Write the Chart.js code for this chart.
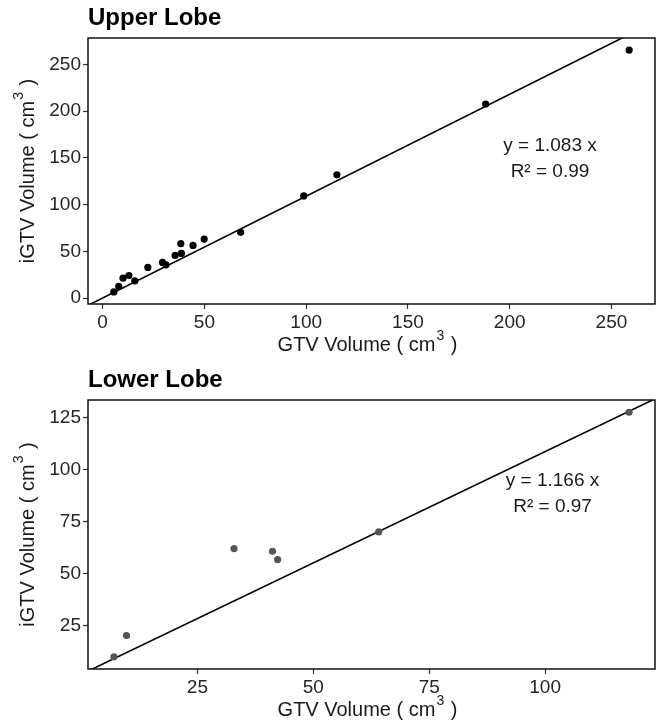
<!DOCTYPE html>
<html>
<head>
<meta charset="utf-8">
<script src="https://cdn.jsdelivr.net/npm/chart.js@4.4.1/dist/chart.umd.min.js"></script>
<style>
  html, body { margin: 0; padding: 0; background: #fff; }
  .wrap { position: relative; width: 662px; }
  #upperWrap { height: 362px; }
  #lowerWrap { height: 363px; }
  canvas { display: block; }
</style>
</head>
<body>
<div class="wrap" id="upperWrap"><canvas id="upperChart"></canvas></div>
<div class="wrap" id="lowerWrap"><canvas id="lowerChart"></canvas></div>
<script>
// upper lobe
const upperGTV  = [5.5, 7.9, 10.0, 12.9, 15.8, 22.2, 29.4, 31.1, 35.6, 38.7, 38.4, 44.4, 49.9, 67.8, 98.8, 115.1, 188.2, 258.7];
const upperIGTV = [6.5, 12.6, 21.2, 24.1, 18.3, 32.7, 38.1, 35.5, 45.6, 47.7, 58.1, 56.3, 63.1, 70.3, 109.2, 131.8, 207.6, 265.3];
const upperXTicks = [0, 50, 100, 150, 200, 250];
const upperYTicks = [0, 50, 100, 150, 200, 250];
const upperSlope = 1.09;
const upperEq = ['y = 1.083 x', 'R² = 0.99'];

// lower lobe
const lowerGTV  = [7.0, 9.7, 32.9, 41.2, 42.3, 64.1, 118.1];
const lowerIGTV = [9.9, 20.1, 61.9, 60.6, 56.6, 69.9, 127.4];
const lowerXTicks = [25, 50, 75, 100];
const lowerYTicks = [25, 50, 75, 100, 125];
const lowerSlope = 1.07;
const lowerIntercept = 1.5;
const lowerEq = ['y = 1.166 x', 'R² = 0.97'];

const FONT = "'Liberation Sans', Arial, Helvetica, sans-serif";

function drawSupLabel(ctx, cx, cy, main, sup, tail) {
  ctx.font = '20px ' + FONT;
  const w1 = ctx.measureText(main).width;
  const w3 = ctx.measureText(tail).width;
  ctx.font = '14px ' + FONT;
  const w2 = ctx.measureText(sup).width + 2;
  let x = cx - (w1 + w2 + w3) / 2;
  ctx.textAlign = 'left';
  ctx.textBaseline = 'middle';
  ctx.font = '20px ' + FONT;
  ctx.fillText(main, x, cy);
  ctx.font = '14px ' + FONT;
  ctx.fillText(sup, x + w1 + 1, cy - 9);
  ctx.font = '20px ' + FONT;
  ctx.fillText(tail, x + w1 + w2, cy);
}

const framePlugin = {
  id: 'frame',
  afterDraw(chart, args, opts) {
    const { ctx, chartArea: a, scales } = chart;
    ctx.save();
    ctx.strokeStyle = '#111';
    ctx.lineWidth = 1.5;
    ctx.strokeRect(a.left, a.top, a.right - a.left, a.bottom - a.top);

    ctx.fillStyle = '#000';
    ctx.font = 'bold 24px ' + FONT;
    ctx.textAlign = 'left';
    ctx.textBaseline = 'middle';
    ctx.fillText(opts.title, a.left, 18);

    ctx.fillStyle = '#1a1a1a';
    drawSupLabel(ctx, (a.left + a.right) / 2 - 4, a.bottom + 41, 'GTV Volume ( cm', '3', ' )');
    ctx.save();
    ctx.translate(28, (a.top + a.bottom) / 2);
    ctx.rotate(-Math.PI / 2);
    drawSupLabel(ctx, 0, 0, 'iGTV Volume ( cm', '3', ' )');
    ctx.restore();

    ctx.font = '19px ' + FONT;
    ctx.textAlign = 'center';
    ctx.fillStyle = '#1a1a1a';
    const ex = scales.x.getPixelForValue(opts.eqAt[0]);
    const ey = scales.y.getPixelForValue(opts.eqAt[1]);
    ctx.fillText(opts.eq[0], ex, ey);
    ctx.fillText(opts.eq[1], ex, ey + 26);
    ctx.restore();
  }
};

function axis(min, max, ticks, fit) {
  return {
    type: 'linear',
    min: min,
    max: max,
    afterBuildTicks: s => { s.ticks = ticks.map(v => ({ value: v })); },
    afterFit: fit,
    border: { display: false },
    grid: { drawOnChartArea: false, tickLength: 5, tickColor: '#333', tickWidth: 1.2 },
    ticks: { font: { size: 19, family: FONT }, color: '#262626', padding: 2, maxRotation: 0 }
  };
}

function makeChart(id, xs, ys, ptColor, lineFn, xr, yr, xt, yt, opts, xHeight) {
  const points = xs.map((x, i) => ({ x: x, y: ys[i] }));
  const fit = [{ x: xr[0], y: lineFn(xr[0]) }, { x: xr[1], y: lineFn(xr[1]) }];
  return new Chart(document.getElementById(id), {
    type: 'scatter',
    data: {
      datasets: [
        { data: points, pointRadius: 3.6, pointBackgroundColor: ptColor, pointBorderWidth: 0 },
        { data: fit, showLine: true, pointRadius: 0, borderColor: '#000', borderWidth: 1.6, fill: false }
      ]
    },
    options: {
      responsive: true,
      maintainAspectRatio: false,
      animation: false,
      layout: { padding: { top: 38, right: 7, left: 0, bottom: 0 } },
      plugins: { legend: { display: false }, tooltip: { enabled: false }, frame: opts },
      scales: {
        x: axis(xr[0], xr[1], xt, s => { s.height = xHeight; }),
        y: axis(yr[0], yr[1], yt, s => { s.width = 88; })
      }
    },
    plugins: [framePlugin]
  });
}

makeChart('upperChart', upperGTV, upperIGTV, '#000', x => upperSlope * x,
  [-7.2, 271.4], [-6.4, 278.2], upperXTicks, upperYTicks,
  { title: 'Upper Lobe', eq: upperEq, eqAt: [219.8, 163] }, 58);

makeChart('lowerChart', lowerGTV, lowerIGTV, '#555', x => lowerSlope * x + lowerIntercept,
  [1.4, 123.7], [4.0, 133.3], lowerXTicks, lowerYTicks,
  { title: 'Lower Lobe', eq: lowerEq, eqAt: [101.6, 94.4] }, 56);
</script>
</body>
</html>
